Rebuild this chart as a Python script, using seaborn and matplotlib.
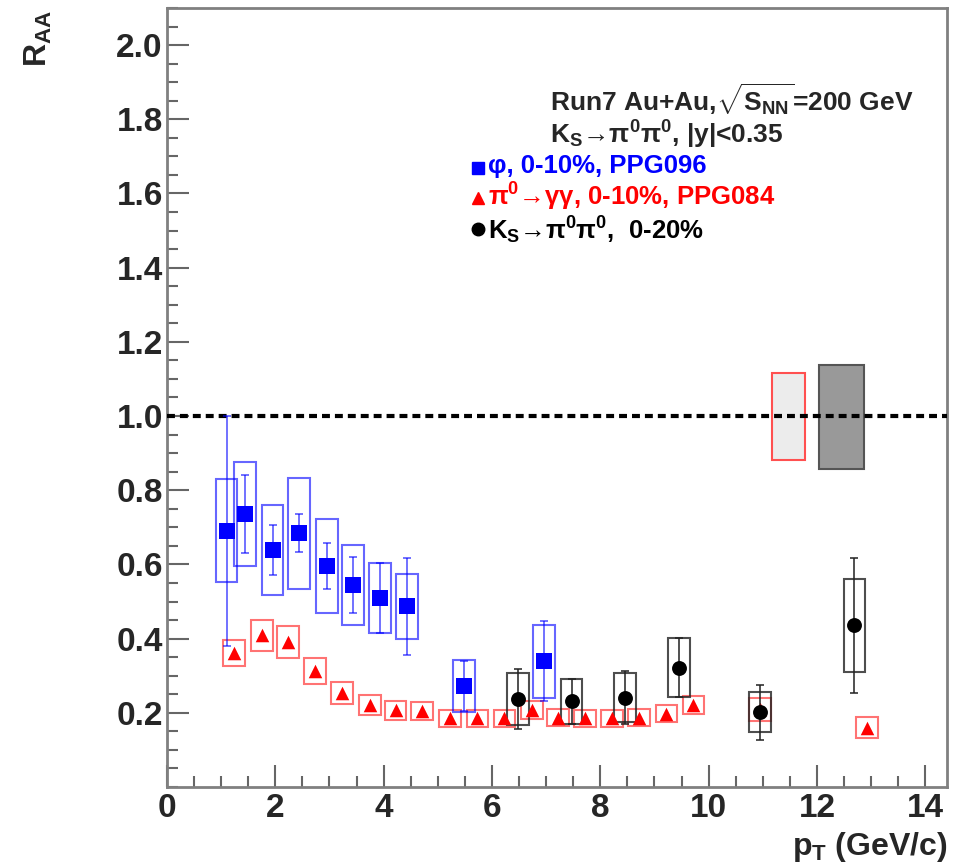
import numpy as np
import pandas as pd
import seaborn as sns
import matplotlib.pyplot as plt
from matplotlib.patches import Rectangle
from matplotlib.ticker import MultipleLocator, FormatStrFormatter

# phi, 0-10%, PPG096
phi_pt = [1.10, 1.44, 1.95, 2.44, 2.95, 3.43, 3.93, 4.43, 5.48, 6.96]
phi_raa = [0.691, 0.736, 0.638, 0.684, 0.596, 0.545, 0.510, 0.487, 0.272, 0.339]
phi_stat = [0.310, 0.105, 0.067, 0.051, 0.063, 0.076, 0.095, 0.130, 0.068, 0.108]
phi_sys = [0.138, 0.139, 0.121, 0.149, 0.127, 0.108, 0.094, 0.088, 0.070, 0.099]

# pi0 -> gamma gamma, 0-10%, PPG084
pi0_pt = [1.24, 1.75, 2.24, 2.73, 3.23, 3.75, 4.22, 4.71, 5.23, 5.73, 6.23, 6.74,
          7.22, 7.72, 8.22, 8.72, 9.22, 9.72, 10.95, 12.92]
pi0_raa = [0.360, 0.409, 0.391, 0.312, 0.254, 0.222, 0.207, 0.205, 0.185, 0.185,
           0.185, 0.207, 0.187, 0.185, 0.185, 0.187, 0.198, 0.221, 0.209, 0.160]
pi0_sys = [0.035, 0.042, 0.043, 0.035, 0.029, 0.027, 0.025, 0.024, 0.022, 0.022,
           0.022, 0.024, 0.022, 0.022, 0.022, 0.022, 0.023, 0.025, 0.030, 0.029]

# Ks -> pi0 pi0, 0-20%
ks_pt = [6.48, 7.47, 8.46, 9.45, 10.95, 12.69]
ks_raa = [0.237, 0.231, 0.241, 0.322, 0.201, 0.436]
ks_stat = [0.080, 0.060, 0.071, 0.080, 0.075, 0.182]
ks_sys = [0.070, 0.061, 0.066, 0.080, 0.054, 0.125]

# normalisation uncertainty boxes around R_AA = 1 (pi0/phi, Ks)
norm_pt = [11.47, 12.45]
norm_lo = [0.882, 0.857]
norm_hi = [1.116, 1.138]

sns.set_style("ticks")
plt.rcParams["font.family"] = ["Liberation Sans", "DejaVu Sans"]
plt.rcParams["font.weight"] = "bold"
plt.rcParams["mathtext.fontset"] = "custom"
plt.rcParams["mathtext.rm"] = "Liberation Sans:bold"
plt.rcParams["mathtext.it"] = "Liberation Sans:bold"
plt.rcParams["mathtext.bf"] = "Liberation Sans:bold"
plt.rcParams["mathtext.sf"] = "Liberation Sans:bold"

fig = plt.figure(figsize=(9.67, 8.66), dpi=100)
ax = fig.add_axes([0.1727, 0.0912, 0.8066, 0.8996])

phi = pd.DataFrame({"pt": phi_pt, "raa": phi_raa})
pi0 = pd.DataFrame({"pt": pi0_pt, "raa": pi0_raa})
ks = pd.DataFrame({"pt": ks_pt, "raa": ks_raa})


def sys_boxes(x, y, dy, color, alpha, hw=0.2, lw=1.5):
    for xi, yi, di in zip(x, y, dy):
        ax.add_patch(Rectangle((xi - hw, yi - di), 2 * hw, 2 * di, fill=False,
                               edgecolor=color, lw=lw, alpha=alpha, zorder=3))


# pi0 first (lowest layer)
sys_boxes(pi0_pt, pi0_raa, pi0_sys, "red", 0.55)
sns.scatterplot(data=pi0, x="pt", y="raa", marker="^", color="red", s=95,
                linewidth=0, ax=ax, zorder=4)

# phi
sys_boxes(phi_pt, phi_raa, phi_sys, "blue", 0.6)
ax.errorbar(phi_pt, phi_raa, yerr=phi_stat, fmt="none", ecolor="blue", alpha=0.6,
            elinewidth=1.3, capsize=3, capthick=1.3, zorder=4)
sns.scatterplot(data=phi, x="pt", y="raa", marker="s", color="blue", s=135,
                linewidth=0, ax=ax, zorder=5)

# Ks
sys_boxes(ks_pt, ks_raa, ks_sys, "#222222", 0.8)
ax.errorbar(ks_pt, ks_raa, yerr=ks_stat, fmt="none", ecolor="#222222", alpha=0.85,
            elinewidth=1.3, capsize=3, capthick=1.3, zorder=6)
sns.scatterplot(data=ks, x="pt", y="raa", marker="o", color="black", s=115,
                linewidth=0, ax=ax, zorder=7)

# normalisation boxes
ax.bar(norm_pt[0], norm_hi[0] - norm_lo[0], bottom=norm_lo[0], width=0.61,
       color="#ececec", edgecolor="#ff5050", lw=1.5, zorder=2)
ax.bar(norm_pt[1], norm_hi[1] - norm_lo[1], bottom=norm_lo[1], width=0.83,
       color="#999999", edgecolor="#555555", lw=1.5, zorder=2)

ax.axhline(1.0, color="black", ls=(0, (1.9, 1.2)), lw=3, zorder=3)

# axes
ax.set_xlim(0, 14.4)
ax.set_ylim(0, 2.1)
ax.set_xticks(np.arange(0, 15, 2))
ax.set_yticks(np.arange(0.2, 2.01, 0.2))
ax.yaxis.set_major_formatter(FormatStrFormatter("%.1f"))
ax.xaxis.set_minor_locator(MultipleLocator(0.5))
ax.yaxis.set_minor_locator(MultipleLocator(0.05))
ax.tick_params(which="both", direction="in", color="#666666", width=1.5,
               labelsize=24, top=False, right=False)
ax.tick_params(which="major", length=16)
ax.tick_params(which="minor", length=8)
ax.tick_params(axis="y", pad=3)
ax.tick_params(axis="x", pad=4)
for lab in ax.get_xticklabels() + ax.get_yticklabels():
    lab.set_fontweight("bold")
for sp in ax.spines.values():
    sp.set_visible(True)
    sp.set_color("#808080")
    sp.set_linewidth(2)
ax.set_xlabel("")
ax.set_ylabel("")

fig.text(0.040, 0.955, r"$R_{AA}$", rotation=90, ha="center", va="center",
         fontsize=23)
fig.text(0.98, 0.013, r"$p_{T}$ (GeV/c)", ha="right", va="baseline",
         fontsize=23, fontweight="bold")

# header and legend
ax.text(7.07, 1.852, r"Run7 Au+Au,$\sqrt{S_{NN}}$=200 GeV", fontsize=19,
        fontweight="bold", va="center")
ax.text(7.07, 1.757, r"K$_{S}$→π$^{0}$π$^{0}$, |y|<0.35", fontsize=19,
        fontweight="bold", va="center")
ax.plot(5.74, 1.668, marker="s", color="blue", ms=8, ls="none")
ax.text(5.92, 1.673, "φ, 0-10%, PPG096", fontsize=18.5, fontweight="bold",
        color="blue", va="center")
ax.plot(5.74, 1.587, marker="^", color="red", ms=8, ls="none")
ax.text(5.92, 1.592, r"π$^{0}$→γγ, 0-10%, PPG084", fontsize=18.5,
        fontweight="bold", color="red", va="center")
ax.plot(5.74, 1.504, marker="o", color="black", ms=9, ls="none")
ax.text(5.92, 1.502, r"K$_{S}$→π$^{0}$π$^{0}$,  0-20%", fontsize=18.5,
        fontweight="bold", color="black", va="center")

fig.savefig("out.png", dpi=100)
